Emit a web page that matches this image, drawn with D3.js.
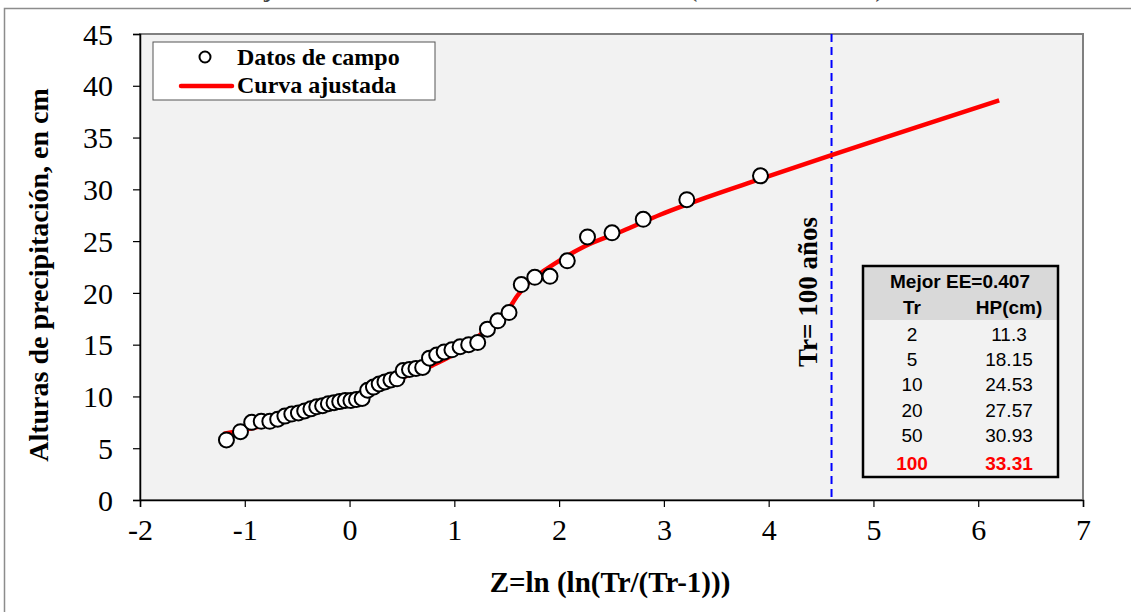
<!DOCTYPE html>
<html lang="es">
  <head>
    <meta charset="UTF-8" />
    <title>Alturas de precipitación vs Z</title>
    <script src="https://d3js.org/d3.v7.min.js"></script>
    <style>
      body {
        margin: 0;
        padding: 0;
        background: #fff;
      }
      svg {
        display: block;
      }
      .serif {
        font-family: "Liberation Serif", "Times New Roman", serif;
      }
      .sans {
        font-family: "Liberation Sans", Arial, sans-serif;
      }
    </style>
  </head>
  <body>
    <svg width="1131" height="612"></svg>
    <script>
      // Datos de campo (Z, HP en cm)
      const zCampo = [
        -1.175, -1.041, -0.934, -0.843, -0.761, -0.686, -0.617, -0.551, -0.488,
        -0.428, -0.369, -0.313, -0.257, -0.202, -0.148, -0.094, -0.041, 0.013,
        0.066, 0.12, 0.173, 0.228, 0.283, 0.338, 0.395, 0.453, 0.512, 0.572,
        0.634, 0.698, 0.763, 0.832, 0.903, 0.977, 1.055, 1.137, 1.223, 1.316,
        1.415, 1.522, 1.639, 1.768, 1.913, 2.078, 2.271, 2.505, 2.803, 3.219,
        3.922,
      ];
      const hpCampo = [
        5.8, 6.6, 7.5, 7.6, 7.6, 7.8, 8.1, 8.3, 8.4, 8.6, 8.8, 9.0, 9.1, 9.3,
        9.4, 9.5, 9.6, 9.6, 9.7, 9.8, 10.6, 10.9, 11.2, 11.4, 11.6, 11.7, 12.5,
        12.6, 12.7, 12.8, 13.7, 14.0, 14.3, 14.5, 14.8, 15.0, 15.2, 16.5, 17.3,
        18.1, 20.8, 21.5, 21.6, 23.1, 25.4, 25.8, 27.1, 29.0, 31.3,
      ];

      // Curva ajustada
      const zCurva = [
        -1.2, -0.9, -0.5, 0, 0.3665, 0.79, 1.05, 1.24, 1.38, 1.5, 1.6, 1.7, 1.85,
        2.0, 2.25, 2.6, 2.97, 3.4, 3.902, 4.6, 5.4, 6.2,
      ];
      const hpCurva = [
        6.4, 7.0, 8.1, 9.7, 11.3, 13.0, 14.4, 15.9, 17.0, 18.15, 19.7, 20.9,
        22.1, 23.1, 24.53, 25.95, 27.57, 29.2, 30.93, 33.31, 35.95, 38.6,
      ];

      // Tabla de resultados
      const trTabla = ["2", "5", "10", "20", "50", "100"];
      const hpTabla = ["11.3", "18.15", "24.53", "27.57", "30.93", "33.31"];
      const mejorEE = "0.407";
      const zTr100 = 4.6;

      const xTicks = [-2, -1, 0, 1, 2, 3, 4, 5, 6, 7];
      const yTicks = [0, 5, 10, 15, 20, 25, 30, 35, 40, 45];

      const margin = { left: 140, right: 1083, top: 34, bottom: 500 };

      const svg = d3.select("svg");

      const x = d3.scaleLinear().domain([-2, 7]).range([margin.left, margin.right]);
      const y = d3.scaleLinear().domain([0, 45]).range([margin.bottom, margin.top]);

      // marco exterior
      svg
        .append("path")
        .attr("d", "M4.5,612 L4.5,8.5 L1131,8.5")
        .attr("fill", "none")
        .attr("stroke", "#8c8c8c")
        .attr("stroke-width", 1.5);

      // titulo (cortado por el borde superior, como en el original)
      svg
        .append("text")
        .attr("class", "serif")
        .attr("x", 246)
        .attr("y", -3)
        .attr("font-size", 24)
        .attr("font-weight", "bold")
        .attr("textLength", 754)
        .attr("fill", "#444")
        .text("Ajuste de la distribución Gumbel Mixta (Dos Poblaciones) - Estación");

      // area de trazado
      svg
        .append("rect")
        .attr("x", margin.left)
        .attr("y", margin.top)
        .attr("width", margin.right - margin.left)
        .attr("height", margin.bottom - margin.top)
        .attr("fill", "#f2f2f2")
        .attr("stroke", "#808080")
        .attr("stroke-width", 2);

      const xAxis = svg
        .append("g")
        .attr("transform", `translate(0,${margin.bottom})`)
        .call(d3.axisBottom(x).tickValues(xTicks).tickSize(7).tickFormat(d3.format("d")));
      const yAxis = svg
        .append("g")
        .attr("transform", `translate(${margin.left},0)`)
        .call(d3.axisLeft(y).tickValues(yTicks).tickSize(7).tickFormat(d3.format("d")));

      [xAxis, yAxis].forEach((a) => {
        a.select(".domain").attr("stroke", "#000").attr("stroke-width", 1.5);
        a.selectAll(".tick line").attr("stroke", "#000").attr("stroke-width", 1.2);
        a.selectAll(".tick text")
          .attr("class", "serif")
          .attr("font-size", 30)
          .attr("fill", "#000");
      });
      xAxis.selectAll(".tick text").attr("y", 19).attr("dy", "0.71em");
      yAxis.selectAll(".tick text").attr("x", -27).attr("dy", "0.34em");
      // guion normal en lugar del signo menos
      xAxis.selectAll(".tick text").text((d) => String(d));

      // linea Tr = 100
      svg
        .append("line")
        .attr("x1", x(zTr100))
        .attr("x2", x(zTr100))
        .attr("y1", margin.top)
        .attr("y2", margin.bottom)
        .attr("stroke", "#0000ff")
        .attr("stroke-width", 2)
        .attr("stroke-dasharray", "8,5");

      svg
        .append("text")
        .attr("class", "serif")
        .attr("transform", `translate(${x(zTr100) - 15},292) rotate(-90)`)
        .attr("text-anchor", "middle")
        .attr("font-size", 27)
        .attr("font-weight", "bold")
        .text("Tr= 100 años");

      // curva
      const line = d3
        .line()
        .x((d, i) => x(zCurva[i]))
        .y((d, i) => y(hpCurva[i]))
        .curve(d3.curveMonotoneX);

      svg
        .append("path")
        .datum(zCurva)
        .attr("d", line)
        .attr("fill", "none")
        .attr("stroke", "#ff0000")
        .attr("stroke-width", 4.5);

      // puntos
      svg
        .append("g")
        .selectAll("circle")
        .data(zCampo)
        .join("circle")
        .attr("cx", (d) => x(d))
        .attr("cy", (d, i) => y(hpCampo[i]))
        .attr("r", 7.5)
        .attr("fill", "#fff")
        .attr("stroke", "#000")
        .attr("stroke-width", 2);

      // leyenda
      const leg = svg.append("g");
      leg
        .append("rect")
        .attr("x", 153)
        .attr("y", 42)
        .attr("width", 282)
        .attr("height", 58)
        .attr("fill", "#fff")
        .attr("stroke", "#555")
        .attr("stroke-width", 1);
      leg
        .append("circle")
        .attr("cx", 205)
        .attr("cy", 57)
        .attr("r", 5.5)
        .attr("fill", "#fff")
        .attr("stroke", "#000")
        .attr("stroke-width", 2);
      leg
        .append("line")
        .attr("x1", 181)
        .attr("x2", 232)
        .attr("y1", 86)
        .attr("y2", 86)
        .attr("stroke", "#ff0000")
        .attr("stroke-width", 4.5)
        .attr("stroke-linecap", "round");
      leg
        .selectAll("text")
        .data(["Datos de campo", "Curva ajustada"])
        .join("text")
        .attr("class", "serif")
        .attr("x", 237)
        .attr("y", (d, i) => 65 + i * 28)
        .attr("font-size", 24)
        .attr("font-weight", "bold")
        .text((d) => d);

      // tabla
      const tab = svg.append("g").attr("class", "sans");
      const tx = 863,
        ty = 266,
        tw = 195,
        th = 211;
      tab
        .append("rect")
        .attr("x", tx)
        .attr("y", ty)
        .attr("width", tw)
        .attr("height", th)
        .attr("fill", "#f2f2f2");
      tab
        .append("rect")
        .attr("x", tx)
        .attr("y", ty)
        .attr("width", tw)
        .attr("height", 54)
        .attr("fill", "#d9d9d9");
      tab
        .append("rect")
        .attr("x", tx)
        .attr("y", ty)
        .attr("width", tw)
        .attr("height", th)
        .attr("fill", "none")
        .attr("stroke", "#000")
        .attr("stroke-width", 2.5);
      tab
        .append("text")
        .attr("x", 960)
        .attr("y", 288)
        .attr("text-anchor", "middle")
        .attr("font-size", 19)
        .attr("font-weight", "bold")
        .text("Mejor EE=" + mejorEE);
      tab
        .append("text")
        .attr("x", 912)
        .attr("y", 314)
        .attr("text-anchor", "middle")
        .attr("font-size", 19)
        .attr("font-weight", "bold")
        .text("Tr");
      tab
        .append("text")
        .attr("x", 1009)
        .attr("y", 314)
        .attr("text-anchor", "middle")
        .attr("font-size", 19)
        .attr("font-weight", "bold")
        .text("HP(cm)");

      const rowY = (i) => 341 + i * 25.2;
      trTabla.forEach((tr, i) => {
        const last = i === trTabla.length - 1;
        [tr, hpTabla[i]].forEach((v, j) => {
          tab
            .append("text")
            .attr("x", j === 0 ? 912 : 1009)
            .attr("y", last ? rowY(i) + 3 : rowY(i))
            .attr("text-anchor", "middle")
            .attr("font-size", 19)
            .attr("font-weight", last ? "bold" : "normal")
            .attr("fill", last ? "#ff0000" : "#000")
            .text(v);
        });
      });

      // titulos de ejes
      svg
        .append("text")
        .attr("class", "serif")
        .attr("transform", "translate(48,275) rotate(-90)")
        .attr("text-anchor", "middle")
        .attr("font-size", 28)
        .attr("font-weight", "bold")
        .text("Alturas de precipitación, en cm");

      svg
        .append("text")
        .attr("class", "serif")
        .attr("x", 610)
        .attr("y", 592)
        .attr("text-anchor", "middle")
        .attr("font-size", 29)
        .attr("font-weight", "bold")
        .text("Z=ln (ln(Tr/(Tr-1)))");
    </script>
  </body>
</html>
